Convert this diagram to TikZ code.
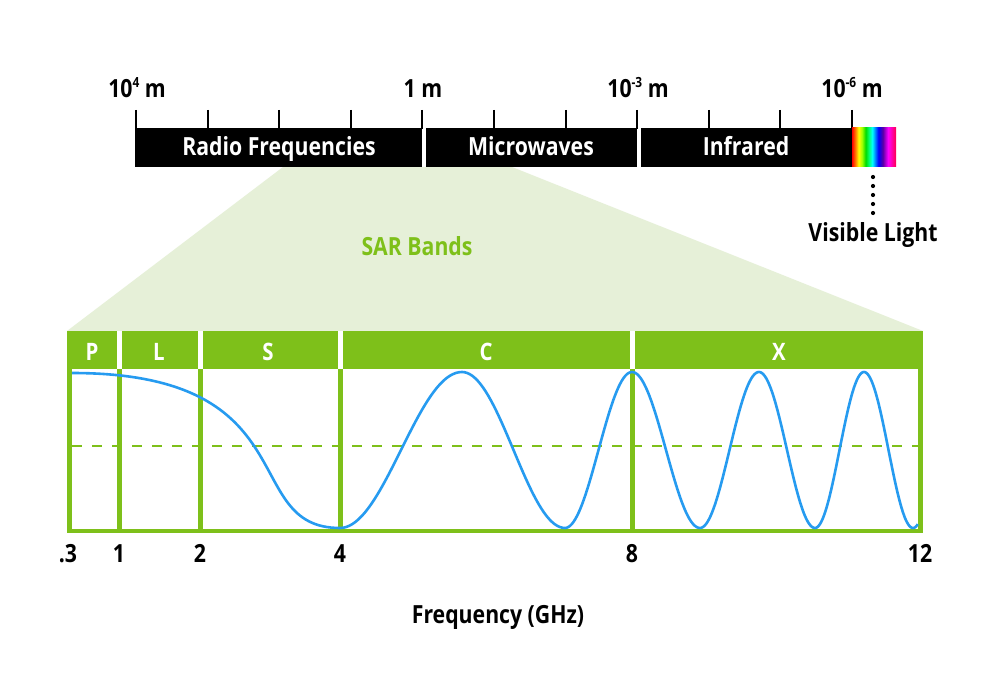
\documentclass[tikz,border=0pt]{standalone}
\usepackage{fontspec}
\setmainfont{Open Sans}
\newfontfamily\cond{Open Sans}[FakeStretch=0.85]
\definecolor{sargreen}{RGB}{126,192,26}
\definecolor{lightgreen}{RGB}{230,240,216}
\definecolor{wavec}{RGB}{38,155,240}
\pgfdeclarehorizontalshading{rainbowshade}{100bp}{color(0bp)=(red); color(25bp)=(red); color(29bp)=(orange); color(32.5bp)=(yellow); color(36.5bp)=(yellow!60!green); color(40.5bp)=(green!80!black!70!green); color(44bp)=(green!60!cyan); color(48bp)=(cyan); color(55bp)=(blue); color(60bp)=(violet!70!blue); color(66bp)=(magenta); color(75bp)=(red!70!magenta); color(100bp)=(red!70!magenta)}
\newcommand\myexp[1]{\raisebox{0.42em}{\fontsize{14}{14}\selectfont #1}}
\tikzset{
  lbl/.style={font=\cond\bfseries\fontsize{25}{25}\selectfont, anchor=base, inner sep=0pt},
  barlbl/.style={lbl, text=white},
  bandlbl/.style={font=\cond\bfseries\fontsize{24}{24}\selectfont, anchor=base, inner sep=0pt, text=white},
  tickline/.style={black, line width=2pt},
  gapline/.style={white, line width=4.5pt},
  divline/.style={sargreen, line width=5pt},
}
\begin{document}
\begin{tikzpicture}[x=1pt,y=-1pt]
\useasboundingbox[fill=white] (0,0) rectangle (1000,692);

% light green funnel
\fill[lightgreen] (283,167) -- (512,167) -- (923,331) -- (67,331) -- cycle;

% spectrum ticks
\foreach \k in {0,...,10} {
  \draw[tickline] ({136+71.6*\k},110) -- ({136+71.6*\k},129);
}
% spectrum bar
\fill[black] (135,128) rectangle (421.5,167);
\fill[black] (426,128) rectangle (637.3,167);
\fill[black] (640.8,128) rectangle (852,167);
\shade[shading=rainbowshade] (852,128) rectangle (896,166.5);
\node[barlbl] (radio) at (279,156) {Radio Frequencies};
\node[barlbl] (micro) at (531,156) {Microwaves};
\node[barlbl] (ir) at (746,156) {Infrared};
\coordinate (vis) at (873,167);

% wavelength labels
\node[lbl] (w1) at (137,98) {10\myexp{4} m};
\node[lbl] (w2) at (423,98) {1 m};
\node[lbl] (w3) at (638,98) {10\myexp{-3} m};
\node[lbl] (w4) at (852,98) {10\myexp{-6} m};

% visible light
\node[lbl] (vislbl) at (873,242) {Visible Light};
\foreach \i in {0,...,4} {
  \fill[black] (873,{177+9*\i}) circle (2.1);
}

% SAR bands title
\node[lbl, text=sargreen] (sar) at (417,256) {SAR Bands};

% band box
\fill[sargreen] (67,331) rectangle (923,533);
\fill[white] (72,369) rectangle (918,529);
\foreach \x in {119.5,200.5,340.5,632.5} {
  \draw[gapline] (\x,331) -- (\x,369);
  \draw[divline] (\x,369) -- (\x,529);
}
\node[bandlbl] (P) at (92,360) {P};
\node[bandlbl] (L) at (159,360) {L};
\node[bandlbl] (S) at (268,360) {S};
\node[bandlbl] (C) at (486,360) {C};
\node[bandlbl] (X) at (779,360) {X};

% dashed mid line
\draw[sargreen, line width=2pt, dash pattern=on 10pt off 10pt] (72,446) -- (918,446);

% wave
\draw[wavec, line width=2.6pt, line join=round]
  (72,373) .. controls (310,373) and (238,528) .. (340,528)
  -- plot[domain=0:180, samples=40] ({340+\x/180*122}, {450+78*cos(\x)})
  -- plot[domain=0:180, samples=40] ({462+\x/180*103}, {450-78*cos(\x)})
  -- plot[domain=0:180, samples=40] ({565+\x/180*67}, {450+78*cos(\x)})
  -- plot[domain=0:180, samples=40] ({632+\x/180*68}, {450-78*cos(\x)})
  -- plot[domain=0:180, samples=40] ({700+\x/180*59}, {450+78*cos(\x)})
  -- plot[domain=0:180, samples=40] ({759+\x/180*56}, {450-78*cos(\x)})
  -- plot[domain=0:180, samples=40] ({815+\x/180*49}, {450+78*cos(\x)})
  -- plot[domain=0:180, samples=40] ({864+\x/180*49}, {450-78*cos(\x)})
  -- plot[domain=0:18, samples=6] ({913+\x/180*48}, {450+78*cos(\x)});

% frequency ticks
\node[lbl] (f03) at (68,562) {.3};
\node[lbl] (f1) at (119,562) {1};
\node[lbl] (f2) at (200,562) {2};
\node[lbl] (f4) at (340,562) {4};
\node[lbl] (f8) at (632,562) {8};
\node[lbl] (f12) at (920,562) {12};
\node[lbl] (freq) at (498,623) {Frequency (GHz)};
\end{tikzpicture}
\end{document}
